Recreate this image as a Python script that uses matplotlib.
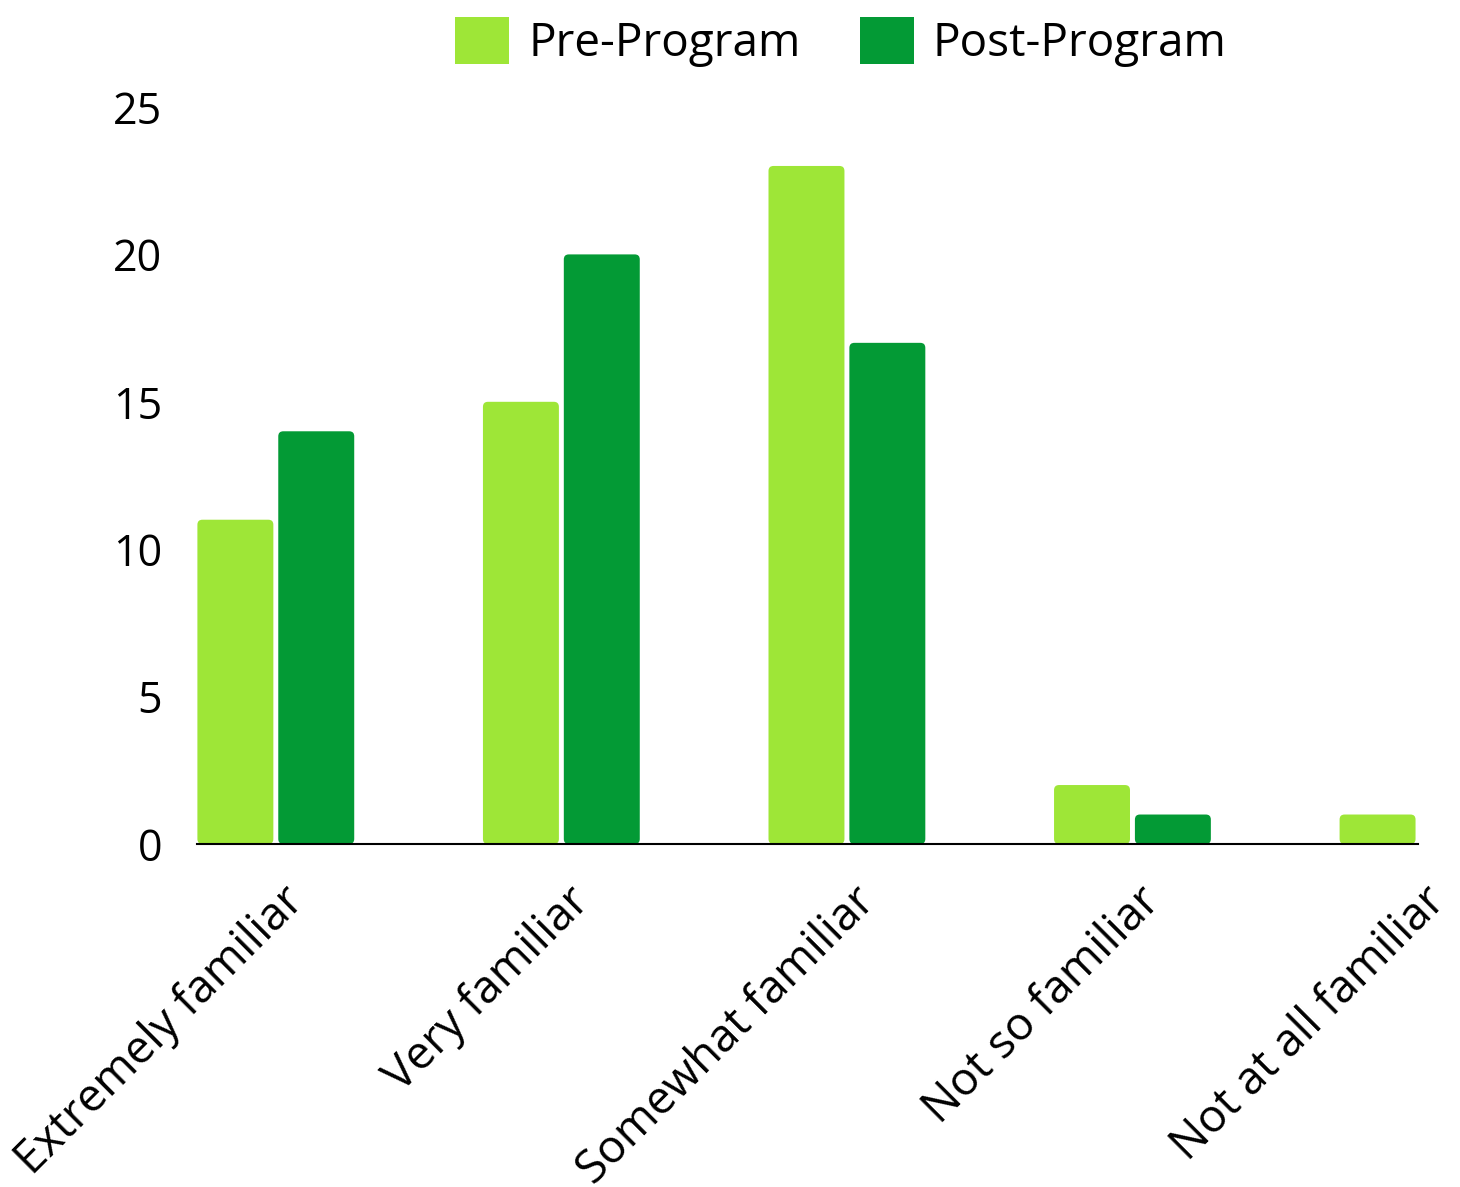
import matplotlib
matplotlib.use("Agg")
import matplotlib.pyplot as plt
from matplotlib.patches import FancyBboxPatch, Patch
import matplotlib.transforms as mtransforms
import numpy as np

plt.rcParams['font.family'] = ['Open Sans', 'DejaVu Sans']

categories = ["Extremely familiar", "Very familiar", "Somewhat familiar", "Not so familiar", "Not at all familiar"]
pre_values = [11, 15, 23, 2, 1]
post_values = [14, 20, 17, 1, 0]
series_names = ["Pre-Program", "Post-Program"]
y_ticks = [0, 5, 10, 15, 20, 25]

pre_color = "#9EE637"
post_color = "#039A35"

fig = plt.figure(figsize=(14.6, 11.87), dpi=100)
ax = fig.add_axes([197/1460, 1-844/1187, (1418-197)/1460, (844-107)/1187])

x = np.arange(len(categories))
w = 0.266
off = 0.1416
ax.set_xlim(-0.276, 3.993)
ax.set_ylim(0, 25)

bars_pre = ax.bar(x - off, pre_values, w, color=pre_color)
bars_post = ax.bar(x + off, post_values, w, color=post_color)

# replace bars with rounded-corner patches
fig.canvas.draw()
px_per_x = ax.transData.transform((1, 0))[0] - ax.transData.transform((0, 0))[0]
px_per_y = ax.transData.transform((0, 1))[1] - ax.transData.transform((0, 0))[1]
r_px = 5
rx = r_px / px_per_x
aspect = (r_px / px_per_y) / rx
for bars in (bars_pre, bars_post):
    for b in bars:
        bx, by, bw, bh = b.get_x(), b.get_y(), b.get_width(), b.get_height()
        b.set_visible(False)
        if bh <= 0:
            continue
        p = FancyBboxPatch((bx, by), bw, bh,
                           boxstyle=f"round,pad=0,rounding_size={rx}",
                           mutation_aspect=aspect,
                           facecolor=b.get_facecolor(), edgecolor='none',
                           zorder=2)
        ax.add_patch(p)

for s in ['top', 'right', 'left']:
    ax.spines[s].set_visible(False)
ax.spines['bottom'].set_color('black')
ax.spines['bottom'].set_linewidth(1.5)
ax.spines['bottom'].set_zorder(3)

ax.set_yticks(y_ticks)
ax.set_yticklabels([str(t) for t in y_ticks])
ax.tick_params(axis='y', length=0, pad=25, labelsize=31)
ax.tick_params(axis='x', length=0, pad=10, labelsize=33)
ax.set_xticks(x)
ax.set_xticklabels(categories, rotation=45, ha='right', va='top', rotation_mode='anchor')

shift = mtransforms.ScaledTranslation(5/100, -20/100, fig.dpi_scale_trans)
for lbl in ax.get_xticklabels():
    lbl.set_transform(lbl.get_transform() + shift)

handles = [Patch(facecolor=pre_color, edgecolor='none'), Patch(facecolor=post_color, edgecolor='none')]
fig.legend(handles, series_names, loc='center', bbox_to_anchor=(841/1460, 1-42/1187),
           ncol=2, frameon=False, fontsize=33, handlelength=1.18, handleheight=1.18,
           handletextpad=0.41, columnspacing=1.3, borderpad=0, borderaxespad=0)

fig.savefig("out.png", dpi=100)
